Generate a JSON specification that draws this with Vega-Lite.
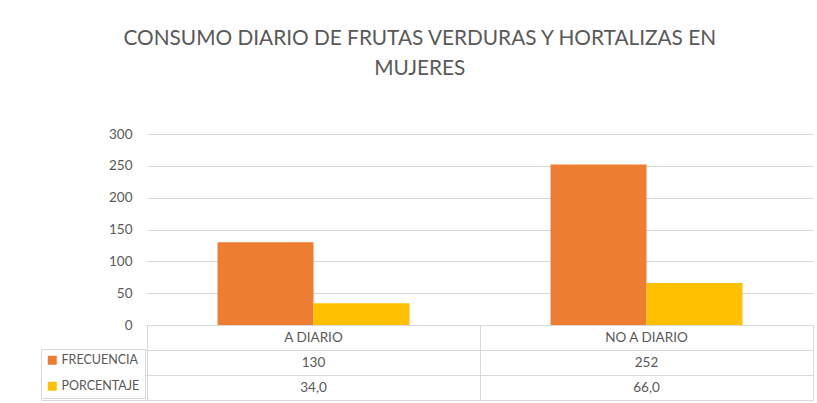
{
  "$schema": "https://vega.github.io/schema/vega-lite/v6.json",
  "background": "white",
  "padding": {"left": 40, "top": 28, "right": 5, "bottom": 4},
  "title": {
    "text": ["CONSUMO DIARIO DE FRUTAS VERDURAS Y HORTALIZAS EN", "MUJERES"],
    "font": "Lato",
    "fontSize": 20.8,
    "fontWeight": "normal",
    "color": "#595959",
    "lineHeight": 30,
    "anchor": "middle",
    "offset": 47,
    "dx": -7
  },
  "datasets": {
    "consumo": [
      {"categoria": "A DIARIO", "serie": "FRECUENCIA", "valor": 130, "etiqueta": "130"},
      {"categoria": "A DIARIO", "serie": "PORCENTAJE", "valor": 34.0, "etiqueta": "34,0"},
      {"categoria": "NO A DIARIO", "serie": "FRECUENCIA", "valor": 252, "etiqueta": "252"},
      {"categoria": "NO A DIARIO", "serie": "PORCENTAJE", "valor": 66.0, "etiqueta": "66,0"}
    ]
  },
  "bounds": "flush",
  "spacing": 0,
  "vconcat": [
    {
      "width": 666,
      "height": 191,
      "data": {"name": "consumo"},
      "mark": {"type": "bar"},
      "encoding": {
        "x": {
          "field": "categoria",
          "type": "nominal",
          "scale": {"domain": ["A DIARIO", "NO A DIARIO"], "paddingInner": 0, "paddingOuter": 0},
          "axis": null
        },
        "xOffset": {
          "field": "serie",
          "type": "nominal",
          "scale": {"domain": ["FRECUENCIA", "PORCENTAJE"], "paddingInner": 0, "paddingOuter": 0.735}
        },
        "y": {
          "field": "valor",
          "type": "quantitative",
          "scale": {"domain": [0, 300]},
          "axis": {
            "values": [0, 50, 100, 150, 200, 250, 300],
            "title": null,
            "domain": false,
            "ticks": false,
            "labelPadding": 15,
            "labelFont": "Lato",
            "labelFontSize": 13.5,
            "labelColor": "#595959",
            "grid": true,
            "gridColor": "#d9d9d9"
          }
        },
        "color": {
          "field": "serie",
          "type": "nominal",
          "scale": {"domain": ["FRECUENCIA", "PORCENTAJE"], "range": ["#ED7D31", "#FFC000"]},
          "legend": {
            "title": null,
            "orient": "none",
            "legendX": -106,
            "legendY": 215,
            "symbolType": "square",
            "symbolSize": 81,
            "symbolStrokeWidth": 0,
            "labelFont": "Lato",
            "labelFontSize": 12.5,
            "labelColor": "#595959",
            "labelOffset": 3,
            "strokeColor": "#d9d9d9",
            "fillColor": "white",
            "padding": 5,
            "rowPadding": 13
          }
        }
      }
    },
    {
      "width": 666,
      "height": 75,
      "data": {"name": "consumo"},
      "view": {"stroke": "#d9d9d9"},
      "layer": [
        {
          "transform": [{"filter": "datum.serie === 'FRECUENCIA'"}],
          "mark": {"type": "text", "font": "Lato", "fontSize": 13.5, "color": "#595959", "baseline": "middle"},
          "encoding": {
            "x": {"field": "categoria", "type": "nominal"},
            "y": {"datum": "CAT", "type": "nominal"},
            "text": {"field": "categoria", "type": "nominal"}
          }
        },
        {
          "mark": {"type": "text", "font": "Lato", "fontSize": 13.5, "color": "#595959", "baseline": "middle"},
          "encoding": {
            "x": {
              "field": "categoria",
              "type": "nominal",
              "scale": {"domain": ["A DIARIO", "NO A DIARIO"], "paddingInner": 0, "paddingOuter": 0},
              "axis": {
                "title": null,
                "labels": false,
                "domain": false,
                "ticks": false,
                "grid": true,
                "gridColor": "#d9d9d9",
                "tickBand": "extent"
              }
            },
            "y": {
              "field": "serie",
              "type": "nominal",
              "scale": {"domain": ["CAT", "FRECUENCIA", "PORCENTAJE"], "paddingInner": 0, "paddingOuter": 0},
              "axis": {
                "values": ["FRECUENCIA", "PORCENTAJE"],
                "title": null,
                "labels": false,
                "domain": false,
                "ticks": true,
                "tickSize": 106,
                "tickColor": "#d9d9d9",
                "tickBand": "extent",
                "grid": true,
                "gridColor": "#d9d9d9"
              }
            },
            "text": {"field": "etiqueta", "type": "nominal"}
          }
        }
      ]
    }
  ],
  "config": {
    "view": {"stroke": null},
    "font": "Lato"
  }
}
